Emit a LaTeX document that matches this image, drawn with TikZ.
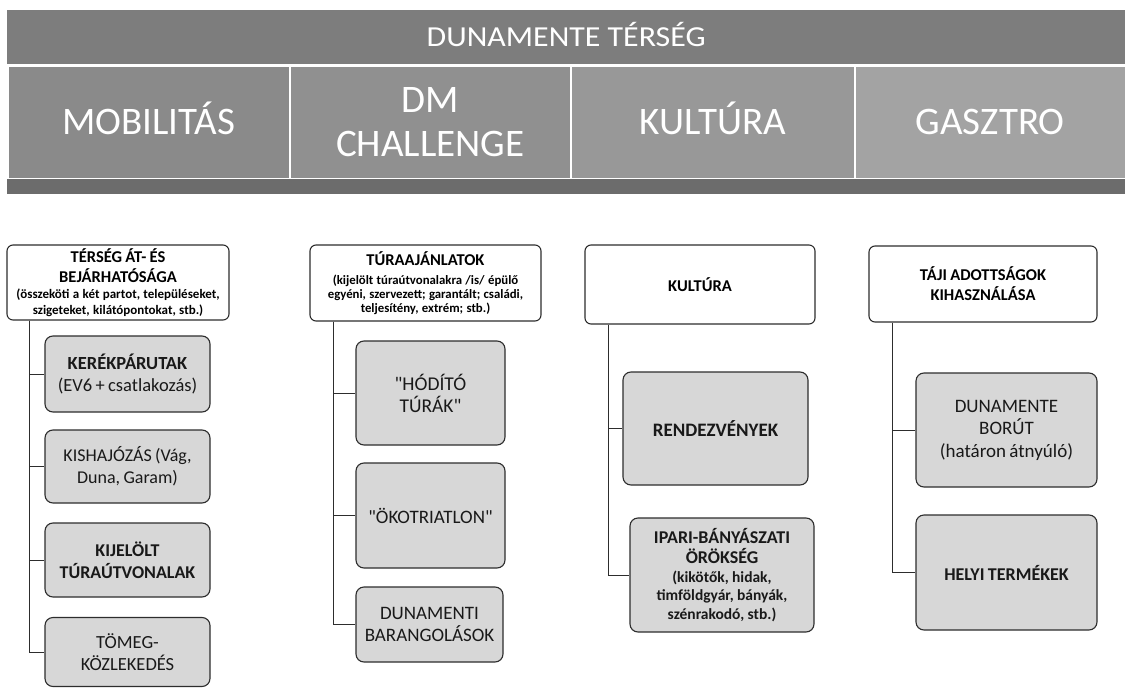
\documentclass[tikz,border=0pt]{standalone}
\usepackage{fontspec}
\setmainfont{Carlito}
\newcommand\setfs[2]{\fontsize{#1}{#2}\selectfont}
\newcommand\dq{\XeTeXglyph\XeTeXcharglyph"22\relax}
\definecolor{topgray}{RGB}{125,125,125}
\definecolor{cellA}{RGB}{138,138,138}
\definecolor{cellB}{RGB}{144,144,144}
\definecolor{cellC}{RGB}{152,152,152}
\definecolor{cellD}{RGB}{163,163,163}
\definecolor{stripgray}{RGB}{108,108,108}
\definecolor{itemgray}{RGB}{215,215,215}
\definecolor{linegray}{RGB}{45,45,45}
\tikzset{
  band/.style={inner sep=0pt, anchor=north west, text=white, align=center},
  cell/.style={band, draw=white, line width=1.5pt, font=\setfs{39}{44}, text height=25pt, text depth=0pt},
  hdrbox/.style={draw=linegray, line width=1.1pt, rounded corners=6pt, fill=white, align=center, inner sep=0pt},
  itembox/.style={draw=linegray, line width=1.1pt, rounded corners=8pt, fill=itemgray, align=center, inner sep=0pt, text=black!90},
  conn/.style={draw=linegray, line width=1pt}
}
\begin{document}
\begin{tikzpicture}[x=1pt,y=-1pt]
\useasboundingbox (0,0) rectangle (1125,688);
% header band
\node (top) [band, fill=topgray, minimum width=1118pt, minimum height=54pt, text height=18.5pt, text depth=0pt] at (7,10)
  {\setfs{29}{34}\scalebox{1.1}[1]{DUNAMENTE TÉRSÉG}};
\node (mob) [cell, fill=cellA, minimum width=282pt, minimum height=113pt] at (7,65) {MOBILITÁS};
\node (dmc) [cell, fill=cellB, minimum width=281pt, minimum height=113pt, text height=69pt, text depth=0pt] at (289,65) {DM\\CHALLENGE};
\node (kul) [cell, fill=cellC, minimum width=284pt, minimum height=113pt] at (570,65) {KULTÚRA};
\node (gas) [cell, fill=cellD, minimum width=271pt, minimum height=113pt] at (854,65) {GASZTRO};
\node (strip) [band, fill=stripgray, minimum width=1118pt, minimum height=15pt] at (7,179) {};

% column 1
\node (h1) [hdrbox, minimum width=222pt, minimum height=75pt, text width=218pt] at (118,282.5)
  {\bfseries\setfs{16.5}{19.5}TÉRSÉG ÁT- ÉS\\BEJÁRHATÓSÁGA\par
   \setfs{13}{16}(összeköti a két partot, településeket,\\szigeteket, kilátópontokat, stb.)\par};
\node (c11) [itembox, minimum width=165pt, minimum height=76pt, text width=160pt] at (127.5,374)
  {\setfs{18.5}{22}\textbf{KERÉKPÁRUTAK}\\(EV6 + csatlakozás)\par};
\node (c12) [itembox, minimum width=165pt, minimum height=73pt, text width=160pt] at (127.5,466.5)
  {\setfs{18}{22}KISHAJÓZÁS (Vág,\\Duna, Garam)\par};
\node (c13) [itembox, minimum width=165pt, minimum height=74pt, text width=160pt] at (127.5,560)
  {\bfseries\setfs{18}{22}KIJELÖLT\\TÚRAÚTVONALAK\par};
\node (c14) [itembox, minimum width=165pt, minimum height=69pt, text width=160pt] at (127.5,652)
  {\setfs{18.5}{22}TÖMEG-\\KÖZLEKEDÉS\par};
\coordinate (v1) at (29,0);
\draw[conn] (h1.south -| v1) |- (c11.west);
\draw[conn] (h1.south -| v1) |- (c12.west);
\draw[conn] (h1.south -| v1) |- (c13.west);
\draw[conn] (h1.south -| v1) |- (c14.west);

% column 2
\node (h2) [hdrbox, minimum width=231pt, minimum height=76pt, text width=226pt] at (425.5,283)
  {\bfseries\setfs{16.5}{20}TÚRAAJÁNLATOK\par\vspace{5pt}
   \setfs{12.8}{14}(kijelölt túraútvonalakra /is/ épülő\\egyéni, szervezett; garantált; családi,\\teljesítény, extrém; stb.)\par};
\node (c21) [itembox, minimum width=149pt, minimum height=104pt, text width=145pt] at (430.5,393)
  {\setfs{19.5}{22}\dq HÓDÍTÓ\\TÚRÁK\dq\par};
\node (c22) [itembox, minimum width=149pt, minimum height=105pt, text width=145pt] at (430.5,515.5)
  {\setfs{19}{22}\dq ÖKOTRIATLON\dq\par};
\node (c23) [itembox, minimum width=147pt, minimum height=75pt, text width=143pt] at (429.5,624.5)
  {\setfs{19}{22}DUNAMENTI\\BARANGOLÁSOK\par};
\coordinate (v2) at (333,0);
\draw[conn] (h2.south -| v2) |- (c21.west);
\draw[conn] (h2.south -| v2) |- (c22.west);
\draw[conn] (h2.south -| v2) |- (c23.west);

% column 3
\node (h3) [hdrbox, minimum width=230pt, minimum height=79pt, text width=226pt] at (700,284.5)
  {\bfseries\setfs{16.5}{20}KULTÚRA\par};
\node (c31) [itembox, minimum width=185pt, minimum height=113pt, text width=180pt] at (715.5,428.5)
  {\bfseries\setfs{19}{22}RENDEZVÉNYEK\par};
\node (c32) [itembox, minimum width=184pt, minimum height=114pt, text width=180pt] at (722,575)
  {\bfseries\setfs{18}{20.5}IPARI-BÁNYÁSZATI\\ÖRÖKSÉG\par
   \setfs{15.5}{18.5}(kikötők, hidak,\\timföldgyár, bányák,\\szénrakodó, stb.)\par};
\coordinate (v3) at (608,0);
\draw[conn] (h3.south -| v3) |- (c31.west);
\draw[conn] (h3.south -| v3) |- (c32.west);

% column 4
\node (h4) [hdrbox, minimum width=228pt, minimum height=76pt, text width=224pt] at (983,284)
  {\bfseries\setfs{16.5}{20}TÁJI ADOTTSÁGOK\\KIHASZNÁLÁSA\par};
\node (c41) [itembox, minimum width=181pt, minimum height=114pt, text width=177pt] at (1006.5,430)
  {\setfs{19}{22.5}DUNAMENTE\\BORÚT\\(határon átnyúló)\par};
\node (c42) [itembox, minimum width=181pt, minimum height=115pt, text width=177pt] at (1006.5,572.5)
  {\bfseries\setfs{18}{22}HELYI TERMÉKEK\par};
\coordinate (v4) at (892,0);
\draw[conn] (h4.south -| v4) |- (c41.west);
\draw[conn] (h4.south -| v4) |- (c42.west);
\end{tikzpicture}
\end{document}
